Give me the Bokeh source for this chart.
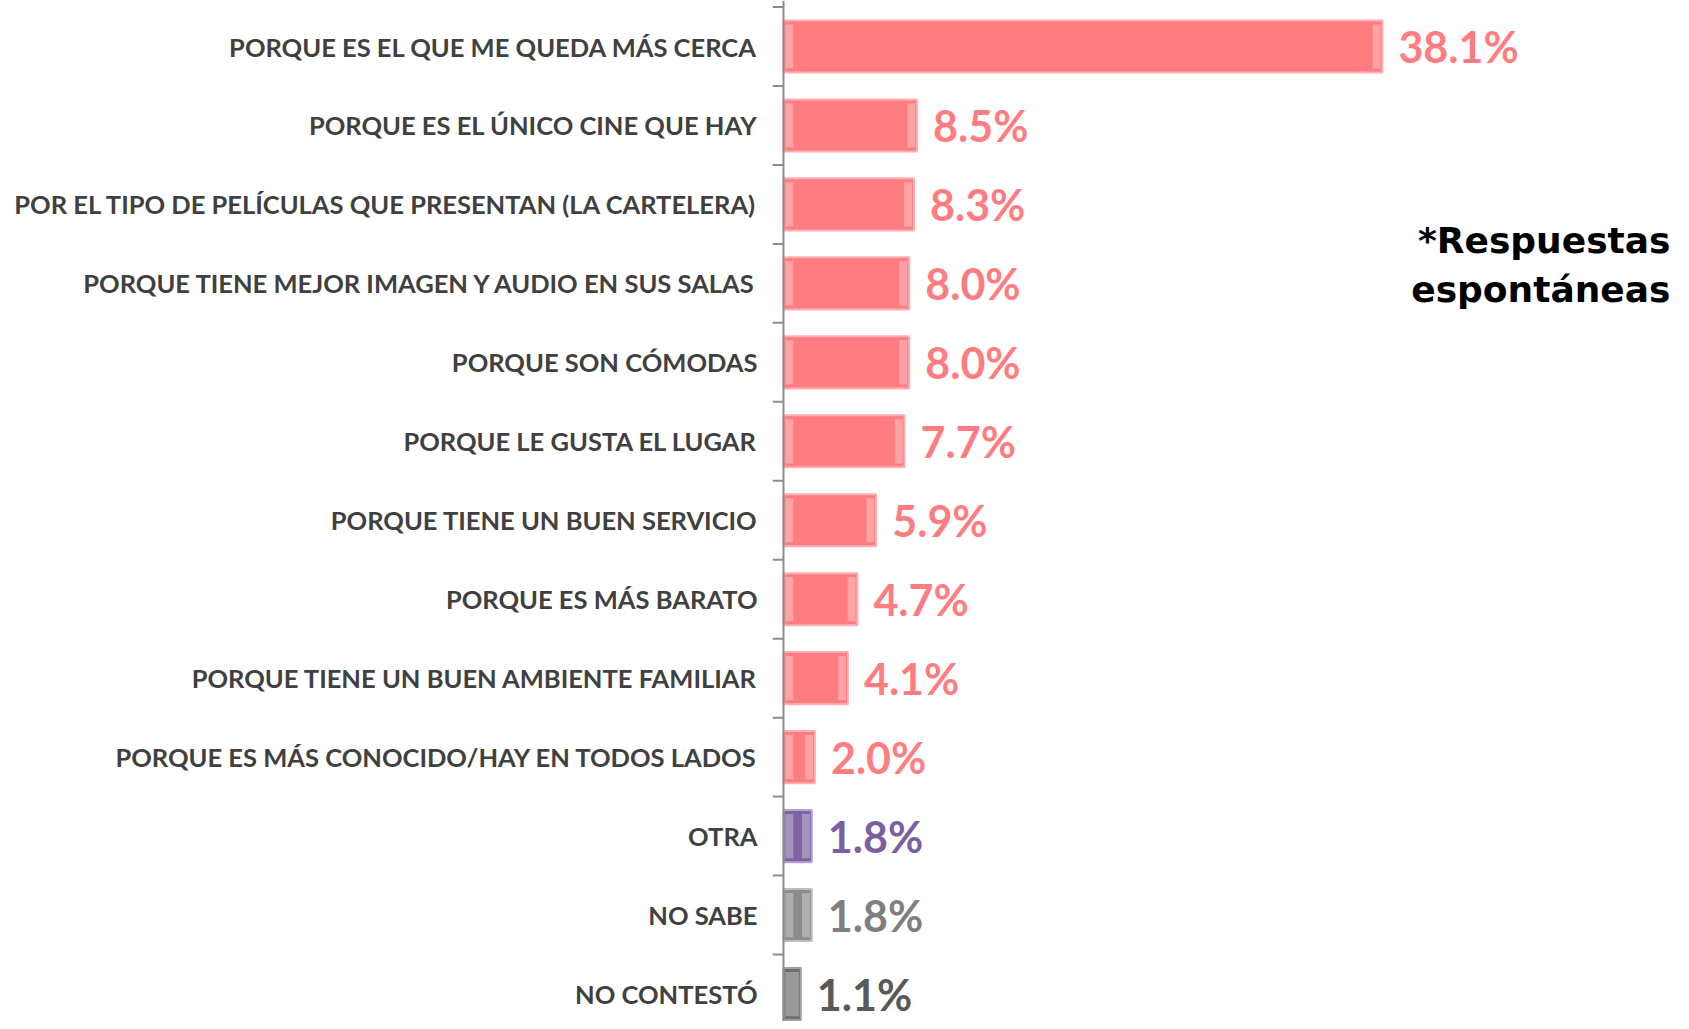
from bokeh.plotting import figure
from bokeh.models import Range1d, FixedTicker, Span, ColumnDataSource
from bokeh.core.properties import value
from bokeh.embed import file_html
from bokeh.resources import INLINE

categories = [
    "PORQUE ES EL QUE ME QUEDA MÁS CERCA",
    "PORQUE ES EL ÚNICO CINE QUE HAY",
    "POR EL TIPO DE PELÍCULAS QUE PRESENTAN (LA CARTELERA)",
    "PORQUE TIENE MEJOR IMAGEN Y AUDIO EN SUS SALAS",
    "PORQUE SON CÓMODAS",
    "PORQUE LE GUSTA EL LUGAR",
    "PORQUE TIENE UN BUEN SERVICIO",
    "PORQUE ES MÁS BARATO",
    "PORQUE TIENE UN BUEN AMBIENTE FAMILIAR",
    "PORQUE ES MÁS CONOCIDO/HAY EN TODOS LADOS",
    "OTRA",
    "NO SABE",
    "NO CONTESTÓ",
]
values = [38.1, 8.5, 8.3, 8.0, 8.0, 7.7, 5.9, 4.7, 4.1, 2.0, 1.8, 1.8, 1.1]

PINK = "#FF7C80"
bar_colors = [PINK] * 10 + ["#8064A2", "#8C8C8C", "#6E6E6E"]
edge_colors = ["#FFAFB1"] * 10 + ["#B7A3D6", "#BDBDBD", "#A0A0A0"]
text_colors = [PINK] * 10 + ["#7B5FA0", "#7F7F7F", "#595959"]

n = len(categories)
ys = list(range(n))
labels = [f"{v:.1f}%" for v in values]

PX_PER_UNIT = 15.72
BEVEL = 0.5  # bevel strip width in data units (~8px)
lb_l = [0.12] * n
lb_r = [min(0.12 + BEVEL, v / 2) for v in values]
rb_l = [max(v - 0.12 - BEVEL, v / 2) for v in values]
rb_r = [v - 0.12 for v in values]

src = ColumnDataSource(dict(y=ys, v=values, lab=labels, fc=bar_colors,
                            ec=edge_colors, tc=text_colors,
                            lbl=lb_l, lbr=lb_r, rbl=rb_l, rbr=rb_r))

W, H = 1681, 1021
FRAME_LEFT = 772
AXIS_X = 783
CENTER0 = 46.0
BAND = 78.96
x_start = -(AXIS_X - FRAME_LEFT) / PX_PER_UNIT
x_end = (W - 2 - AXIS_X) / PX_PER_UNIT
y_top = -CENTER0 / BAND
y_bot = (H - CENTER0) / BAND

p = figure(width=W, height=H, output_backend="svg", toolbar_location=None,
           x_range=Range1d(x_start, x_end),
           y_range=Range1d(y_bot, y_top),
           min_border_left=FRAME_LEFT, min_border_right=2,
           min_border_top=0, min_border_bottom=0)
p.outline_line_color = None
p.grid.visible = False
p.xaxis.visible = False
p.background_fill_color = "white"

yax = p.yaxis[0]
yax.ticker = FixedTicker(ticks=ys)
yax.major_label_overrides = {i: c for i, c in enumerate(categories)}
yax.axis_line_color = None
yax.major_tick_line_color = None
yax.minor_tick_line_color = None
yax.major_label_standoff = 9
yax.major_label_text_font = "Lato"
yax.major_label_text_font_style = "bold"
yax.major_label_text_font_size = "25.5px"
yax.major_label_text_color = "#404040"

p.hbar(y="y", left=0, right="v", height=0.66, source=src,
       fill_color="fc", line_color="ec", line_width=2)
# bevel highlights at both ends of each bar
p.hbar(y="y", left="lbl", right="lbr", height=0.56, source=src,
       fill_color="white", fill_alpha=0.3, line_color=None)
p.hbar(y="y", left="rbl", right="rbr", height=0.56, source=src,
       fill_color="white", fill_alpha=0.3, line_color=None)

# axis line and boundary ticks
p.add_layout(Span(location=0, dimension="height", line_color="#8C8C8C", line_width=2))
bounds = [i - 0.5 for i in range(n + 1)]
p.segment(x0=[x_start] * len(bounds), x1=[0] * len(bounds), y0=bounds, y1=bounds,
          line_color="#8C8C8C", line_width=2)

p.text(x="v", y="y", text="lab", source=src, x_offset=16,
       text_baseline="middle", text_align="left",
       text_font=value("Lato"), text_font_style="bold",
       text_font_size="43px", text_color="tc")

note_x = (1670 - AXIS_X) / PX_PER_UNIT
p.text(x=[note_x, note_x], y=[(240 - CENTER0) / BAND, (289 - CENTER0) / BAND],
       text=["*Respuestas", "espontáneas"],
       text_align="right", text_baseline="alphabetic",
       text_font=value("DejaVu Sans"), text_font_style="bold",
       text_font_size="36px", text_color="black")

open("out.html", "w").write(file_html(p, INLINE))
